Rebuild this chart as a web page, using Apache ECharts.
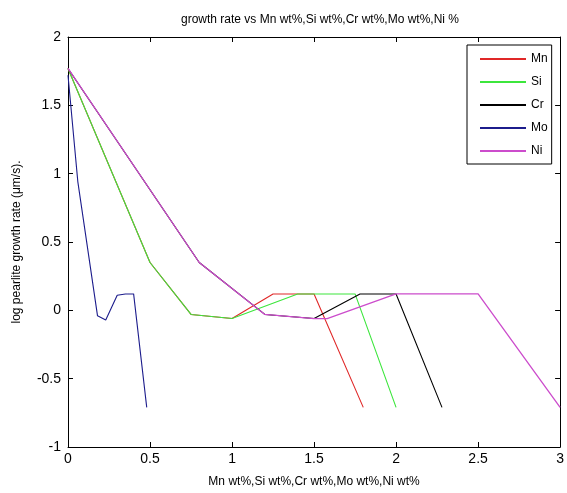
<!DOCTYPE html>
<html>
<head>
<meta charset="utf-8">
<script src="https://cdn.jsdelivr.net/npm/echarts@6/dist/echarts.min.js"></script>
<style>html,body{margin:0;padding:0;background:#fff;}#c{width:567px;height:493px;}</style>
</head>
<body>
<div id="c"></div>
<script>
var seriesNames = ['Mn', 'Si', 'Cr', 'Mo', 'Ni'];
var mnX = [0, 0.5, 0.75, 1.0, 1.25, 1.5, 1.8];
var mnY = [1.77, 0.35, -0.03, -0.06, 0.12, 0.12, -0.71];
var siX = [0, 0.5, 0.75, 1.0, 1.4, 1.75, 2.0];
var siY = [1.77, 0.35, -0.03, -0.06, 0.12, 0.12, -0.71];
var crX = [0, 0.8, 1.2, 1.5, 1.78, 2.0, 2.28];
var crY = [1.77, 0.35, -0.03, -0.06, 0.12, 0.12, -0.71];
var moX = [0, 0.06, 0.18, 0.23, 0.3, 0.35, 0.4, 0.48];
var moY = [1.72, 0.94, -0.04, -0.07, 0.11, 0.12, 0.12, -0.71];
var niX = [0, 0.8, 1.2, 1.5, 1.58, 2.0, 2.5, 3.0];
var niY = [1.77, 0.35, -0.03, -0.06, -0.06, 0.12, 0.12, -0.71];
var xTicks = ['0', '0.5', '1', '1.5', '2', '2.5', '3'];
var yTicks = ['-1', '-0.5', '0', '0.5', '1', '1.5', '2'];
var colors = ['#e02828', '#3ce63c', '#000000', '#1c1c8c', '#cc4ccc'];

function pairs(xs, ys) { return xs.map(function (x, i) { return [x, ys[i]]; }); }
var allData = [pairs(mnX, mnY), pairs(siX, siY), pairs(crX, crY), pairs(moX, moY), pairs(niX, niY)];

var font = 'Liberation Sans, Arial, sans-serif';
var chart = echarts.init(document.getElementById('c'), null, {renderer: 'canvas'});
var axisCommon = {
  type: 'value',
  axisLine: {show: true, onZero: false, lineStyle: {color: '#000', width: 1}},
  axisTick: {show: true, inside: true, length: 5, lineStyle: {color: '#000'}},
  splitLine: {show: false}
};
chart.setOption({
  animation: false,
  backgroundColor: '#fff',
  title: {
    text: 'growth rate vs Mn wt%,Si wt%,Cr wt%,Mo wt%,Ni %',
    left: 315, top: 9, textAlign: 'center',
    textStyle: {fontFamily: font, fontSize: 12, fontWeight: 'normal', color: '#000'}
  },
  grid: {left: 68, right: 5, top: 37, bottom: 45, containLabel: false},
  legend: {
    data: seriesNames,
    orient: 'vertical',
    left: 467, top: 45,
    padding: [8, 4, 7, 12],
    itemWidth: 46, itemHeight: 14, itemGap: 11,
    backgroundColor: '#fff',
    borderColor: '#000', borderWidth: 1, borderRadius: 0,
    itemStyle: {color: 'rgba(0,0,0,0)', borderWidth: 0, opacity: 0},
    textStyle: {fontFamily: font, fontSize: 12, color: '#000', padding: [0, 0, 0, 0]}
  },
  xAxis: [
    Object.assign({}, axisCommon, {
      min: 0, max: 3, interval: 0.5, position: 'bottom',
      name: 'Mn wt%,Si wt%,Cr wt%,Mo wt%,Ni wt%', nameLocation: 'middle', nameGap: 29,
      nameTextStyle: {fontFamily: font, fontSize: 12, color: '#000'},
      axisLabel: {fontFamily: font, fontSize: 14, color: '#000', margin: 5,
        formatter: function (v) { return xTicks[Math.round(v / 0.5)]; }}
    }),
    Object.assign({}, axisCommon, {
      min: 0, max: 3, interval: 0.5, position: 'top', axisLabel: {show: false}
    })
  ],
  yAxis: [
    Object.assign({}, axisCommon, {
      min: -1, max: 2, interval: 0.5, position: 'left',
      name: 'log pearlite growth rate (μm/s).', nameLocation: 'middle', nameGap: 45,
      nameTextStyle: {fontFamily: font, fontSize: 12, color: '#000'},
      axisLabel: {fontFamily: font, fontSize: 14, color: '#000', margin: 7,
        formatter: function (v) { return yTicks[Math.round((v + 1) / 0.5)]; }}
    }),
    Object.assign({}, axisCommon, {
      min: -1, max: 2, interval: 0.5, position: 'right', axisLabel: {show: false}
    })
  ],
  series: seriesNames.map(function (n, i) {
    return {
      name: n, type: 'line', data: allData[i], symbol: 'none',
      xAxisIndex: 0, yAxisIndex: 0,
      lineStyle: {color: colors[i], width: i === 4 ? 1.3 : 1.1},
      itemStyle: {color: colors[i]}
    };
  })
});
</script>
</body>
</html>
